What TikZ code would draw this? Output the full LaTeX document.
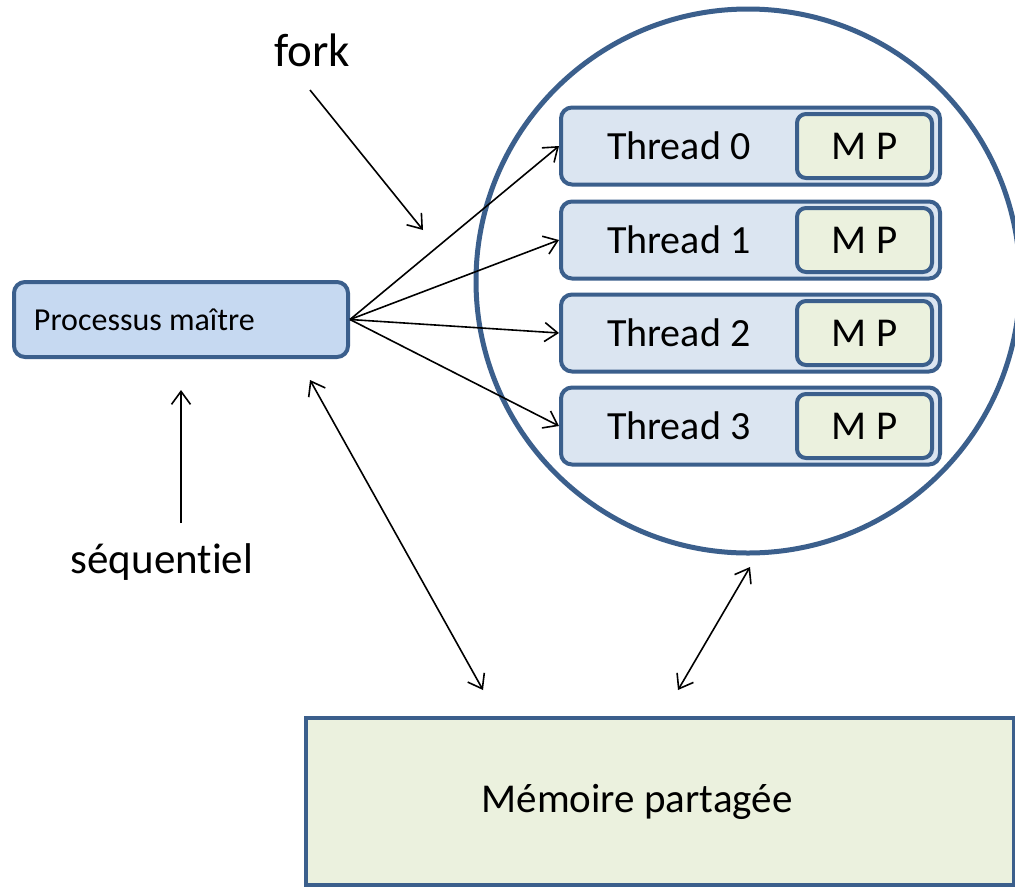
\documentclass[tikz,border=0pt]{standalone}
\usepackage{fontspec}
\setmainfont{Carlito}[Ligatures=CommonOff]
\usetikzlibrary{arrows.meta}

\definecolor{rim}{HTML}{3B5F8C}
\definecolor{masterfill}{HTML}{C6D9F1}
\definecolor{threadfill}{HTML}{DBE5F1}
\definecolor{memfill}{HTML}{EBF1DE}

\begin{document}
\begin{tikzpicture}[x=1pt,y=-1pt,>={Straight Barb[length=13pt,width=19pt]},line width=1.6pt]
\tikzstyle{box}=[draw=rim,line width=4pt,rounded corners=11pt,inner sep=0pt]
\tikzstyle{th}=[box,fill=threadfill,minimum width=379pt,minimum height=77pt,text width=287pt,inner xsep=46pt,align=flush left,font=\fontsize{40}{46}\selectfont]
\tikzstyle{mp}=[box,fill=memfill,rounded corners=9pt,minimum width=135pt,minimum height=64pt,font=\fontsize{41}{47}\selectfont]
\tikzstyle{lbl}=[inner sep=0pt]
\useasboundingbox[fill=white] (0,0) rectangle (1015,887);

% team of threads
\node[circle,draw=rim,line width=5pt,minimum size=544pt,inner sep=0pt] (team) at (748,281) {};
\foreach \i/\y in {0/146,1/240,2/333,3/426} {
  \node[th] (t\i) at (750.5,\y) {Thread \i};
  \node[mp] (mp\i) at (864.5,\y) {M P};
}

% master and shared memory
\node[box,fill=masterfill,minimum width=334pt,minimum height=75pt,text width=294pt,inner xsep=20pt,align=flush left,font=\fontsize{32}{36}\selectfont] (master) at (181,319.5) {Processus maître};
\node[draw=rim,fill=memfill,line width=4pt,minimum width=708pt,minimum height=167pt,inner sep=0pt,font=\fontsize{41}{47}\selectfont] (mem) at (660,801.5) {Mémoire partagée\hspace*{46pt}};

\node[lbl,font=\fontsize{47}{52}\selectfont] (fork) at (312,50) {fork};
\node[lbl,font=\fontsize{43}{48}\selectfont] (seq) at (162,562) {séquentiel};

\coordinate (forkstart) at (310,90);
\coordinate (forkend) at (423,230);
\coordinate (seqstart) at (181,523);
\coordinate (seqend) at (181,390);
\coordinate (ma) at (310,380);
\coordinate (mb) at (483,690);
\coordinate (ca) at (750,567);
\coordinate (cb) at (678,690);

\foreach \i in {0,1,2,3} \draw[->] (master.east) -- (t\i.west);
\draw[->] (forkstart) -- (forkend);
\draw[->] (seqstart) -- (seqend);
\draw[<->] (ma) -- (mb);
\draw[<->] (ca) -- (cb);
\end{tikzpicture}
\end{document}
